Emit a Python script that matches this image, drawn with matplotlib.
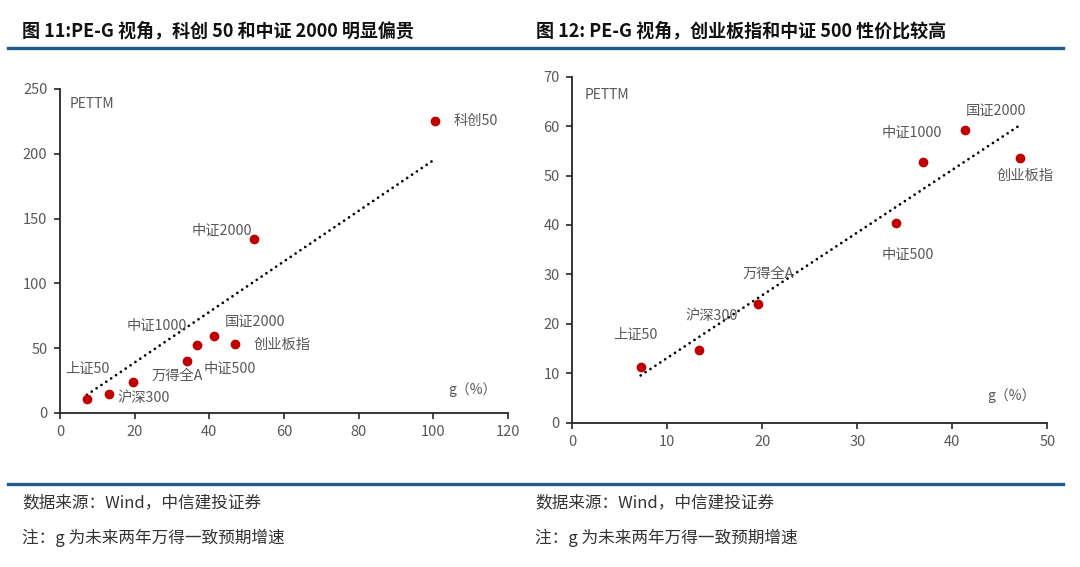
import matplotlib
matplotlib.use("Agg")
import matplotlib.pyplot as plt
import numpy as np
from matplotlib.lines import Line2D

plt.rcParams['font.family'] = ['Noto Sans CJK SC', 'DejaVu Sans']

# ---------------- data ----------------
left_names = ['上证50', '沪深300', '万得全A', '中证500', '中证1000', '国证2000', '创业板指', '中证2000', '科创50']
left_g = [7.2, 13.2, 19.5, 34.1, 36.8, 41.2, 47.0, 51.9, 100.5]
left_pe = [11.0, 14.7, 24.2, 40.4, 52.5, 59.2, 53.2, 134.0, 225.3]
left_trend_x = [7.2, 100.5]
left_trend_y = [14.0, 196.0]

right_names = ['上证50', '沪深300', '万得全A', '中证500', '中证1000', '国证2000', '创业板指']
right_g = [7.2, 13.3, 19.5, 34.1, 36.9, 41.3, 47.1]
right_pe = [11.2, 14.7, 24.1, 40.5, 52.7, 59.2, 53.5]

left_xticks = [0, 20, 40, 60, 80, 100, 120]
left_yticks = [0, 50, 100, 150, 200, 250]
right_xticks = [0, 10, 20, 30, 40, 50]
right_yticks = [0, 10, 20, 30, 40, 50, 60, 70]

title_left = '图 11:PE-G 视角，科创 50 和中证 2000 明显偏贵'
title_right = '图 12: PE-G 视角，创业板指和中证 500 性价比较高'
source_text = '数据来源：Wind，中信建投证券'
note_text = '注：g 为未来两年万得一致预期增速'

# label offsets in pixels (dx, dy up)
left_offsets = {'上证50': (1, 30), '沪深300': (34, -4), '万得全A': (44, 6), '中证500': (43, -8),
                '中证1000': (-41, 19), '国证2000': (41, 14), '创业板指': (47, -1),
                '中证2000': (-32, 9), '科创50': (41, 0)}
right_offsets = {'上证50': (-5, 33), '沪深300': (13, 34), '万得全A': (11, 30), '中证500': (12, -32),
                 '中证1000': (-11, 29), '国证2000': (31, 19), '创业板指': (5, -18)}

W, H = 1080, 567
fig = plt.figure(figsize=(W / 100, H / 100), dpi=100)
fig.patch.set_facecolor('white')

gray = '#595959'
red = '#C00000'


def style_axes(ax, xlim, ylim, xticks, yticks):
    ax.set_xlim(*xlim)
    ax.set_ylim(*ylim)
    ax.set_xticks(xticks)
    ax.set_yticks(yticks)
    for s in ['top', 'right']:
        ax.spines[s].set_visible(False)
    for s in ['left', 'bottom']:
        ax.spines[s].set_color('#262626')
        ax.spines[s].set_linewidth(1.3)
    ax.tick_params(direction='out', length=4, width=1.2, color='#262626',
                   labelsize=10.5, labelcolor=gray, pad=5)
    ax.set_facecolor('white')


def plot_scatter(ax, g, pe, names, offsets):
    ax.plot(g, pe, linestyle='none', marker='o', markersize=6, color=red,
            markeredgecolor=red, zorder=3, clip_on=False)
    for x, y, n in zip(g, pe, names):
        dx, dy = offsets[n]
        ax.annotate(n, (x, y), xytext=(dx, dy), textcoords='offset pixels',
                    ha='center', va='center', fontsize=10.3, color=gray, zorder=4)


# left chart
axL = fig.add_axes([60 / W, 1 - 413 / H, 448 / W, 324 / H])
style_axes(axL, (0, 120), (0, 250), left_xticks, left_yticks)
axL.plot(left_trend_x, left_trend_y, color='black', linewidth=2.0,
         linestyle=(0, (0.01, 2.1)), dash_capstyle='round', zorder=2)
plot_scatter(axL, left_g, left_pe, left_names, left_offsets)
fig.text(472 / W, 1 - 390 / H, 'g（%）', ha='center', va='center', fontsize=10, color=gray)
fig.text(70 / W, 1 - 104 / H, 'PETTM', ha='left', va='center', fontsize=10, color=gray)

# right chart
axR = fig.add_axes([572.3 / W, 1 - 422.7 / H, 475 / W, 346 / H])
style_axes(axR, (0, 50), (0, 70), right_xticks, right_yticks)
coef = np.polyfit(right_g, right_pe, 1)
tx = np.array([min(right_g), max(right_g)])
axR.plot(tx, np.polyval(coef, tx), color='black', linewidth=2.0,
         linestyle=(0, (0.01, 2.1)), dash_capstyle='round', zorder=2)
plot_scatter(axR, right_g, right_pe, right_names, right_offsets)
fig.text(1011 / W, 1 - 396 / H, 'g（%）', ha='center', va='center', fontsize=10, color=gray)
fig.text(585 / W, 1 - 95 / H, 'PETTM', ha='left', va='center', fontsize=10, color=gray)

# titles
fig.text(22 / W, 1 - 31 / H, title_left, ha='left', va='center', fontsize=13,
         fontweight='bold', color='#111111')
fig.text(536 / W, 1 - 31 / H, title_right, ha='left', va='center', fontsize=13,
         fontweight='bold', color='#111111')

# rules
blue = '#1F5A8A'
fig.add_artist(Line2D([8 / W, 1063 / W], [1 - 48 / H, 1 - 48 / H], color=blue, linewidth=2.4))
fig.add_artist(Line2D([8 / W, 1063 / W], [1 - 484 / H, 1 - 484 / H], color=blue, linewidth=2.4))

# footers
for x0 in (22, 535):
    fig.text(x0 / W, 1 - 503 / H, source_text, ha='left', va='center', fontsize=12,
             style='italic', color='#333333')
    fig.text(x0 / W, 1 - 538 / H, note_text, ha='left', va='center', fontsize=12,
             style='italic', color='#333333')

fig.savefig('out.png', dpi=100, facecolor='white')
